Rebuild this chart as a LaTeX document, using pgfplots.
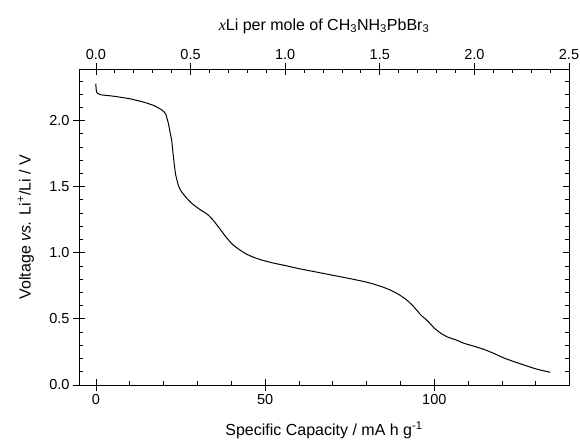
\documentclass[border=0pt]{standalone}
\usepackage{pgfplots}
\pgfplotsset{compat=1.18}
\usepackage{fontspec}
\setmainfont{Liberation Sans}
\newfontfamily\seriffont{Liberation Serif}
\begin{document}
\begin{tikzpicture}
\pgfplotsset{
  common/.style={
    scale only axis, width=490pt, height=316pt,
    at={(0,0)}, anchor=south west,
    ymin=0, ymax=2.39,
    /pgf/number format/assume math mode=true,
    tick label style={font=\fontsize{14.5}{17}\selectfont},
    label style={font=\fontsize{16}{19}\selectfont},
    axis line style={line width=0.8pt},
    every tick/.style={black, line width=0.8pt},
    major tick length=6pt, minor tick length=4pt,
  }
}
\useasboundingbox (-79pt,-55pt) rectangle (501pt,385pt);
% main axis: bottom and left, inside ticks
\begin{axis}[common,
  xmin=-5, xmax=139.8,
  xtick={0,50,100},
  minor xtick={10,20,30,40,60,70,80,90,110,120,130},
  ytick={0,0.5,1,1.5,2},
  minor ytick={0.1,0.2,0.3,0.4,0.6,0.7,0.8,0.9,1.1,1.2,1.3,1.4,1.6,1.7,1.8,1.9,2.1,2.2,2.3},
  xtick pos=bottom, ytick pos=left, tick align=inside,
  yticklabel style={/pgf/number format/fixed, /pgf/number format/fixed zerofill, /pgf/number format/precision=1, xshift=-6pt},
  xticklabel style={yshift=-6pt},
  xlabel={Specific Capacity / mA h g\textsuperscript{-1}},
  ylabel={Voltage \textit{vs.} Li\textsuperscript{+}/Li / V},
  xlabel style={at={([yshift=-45pt]axis description cs:0.5,0)}, anchor=center},
  ylabel style={at={([xshift=-53pt]axis description cs:0,0.5)}, anchor=center},
]
\addplot[black, line width=1pt, smooth, tension=0.3] coordinates {
(0,2.28) (0.05,2.24) (0.3,2.21) (1.5,2.195) (5,2.185) (10,2.165) (14,2.14)
(17,2.115) (19.5,2.08) (20.6,2.05) (21.4,1.98) (22.0,1.90) (22.4,1.85)
(22.8,1.75) (23.1,1.68) (23.5,1.60) (23.9,1.553) (24.5,1.50) (25.2,1.465)
(26.8,1.414) (28.5,1.37) (30.8,1.326) (33,1.29) (34.7,1.245) (36.5,1.185)
(38.7,1.111) (40.5,1.06) (42.6,1.02) (44.5,0.99) (46.5,0.967) (49,0.945)
(52.5,0.922) (56,0.903) (60,0.88) (65,0.855) (70,0.83) (75,0.805) (80,0.778)
(84,0.748) (87,0.718) (89.5,0.685) (92,0.64) (94,0.59) (96,0.53) (98,0.485)
(100,0.43) (102,0.39) (104,0.362) (106.5,0.34) (108.7,0.316) (111.5,0.295)
(114.6,0.27) (117.5,0.24) (120.5,0.205) (123.5,0.177) (126.4,0.152)
(129,0.13) (131.2,0.114) (134.3,0.096)
};
\end{axis}
% outward halves of bottom/left major ticks
\begin{axis}[common,
  xmin=-5, xmax=139.8,
  xtick={0,50,100}, ytick={0,0.5,1,1.5,2},
  xtick pos=bottom, ytick pos=left, tick align=outside,
  xticklabels={}, yticklabels={},
]
\end{axis}
% top axis (xLi) and right ticks, inside
\begin{axis}[common,
  xmin=-0.0894, xmax=2.5,
  xtick={0,0.5,1,1.5,2,2.5},
  minor xtick={0.1,0.2,0.3,0.4,0.6,0.7,0.8,0.9,1.1,1.2,1.3,1.4,1.6,1.7,1.8,1.9,2.1,2.2,2.3,2.4},
  ytick={0,0.5,1,1.5,2},
  minor ytick={0.1,0.2,0.3,0.4,0.6,0.7,0.8,0.9,1.1,1.2,1.3,1.4,1.6,1.7,1.8,1.9,2.1,2.2,2.3},
  xtick pos=top, ytick pos=right, tick align=inside,
  yticklabels={},
  xticklabel style={/pgf/number format/fixed, /pgf/number format/fixed zerofill, /pgf/number format/precision=1, yshift=6pt},
  xlabel={{\seriffont\itshape x}Li per mole of CH\textsubscript{3}NH\textsubscript{3}PbBr\textsubscript{3}},
  xlabel style={at={([yshift=43pt]axis description cs:0.5,1)}, anchor=center},
]
\end{axis}
% outward halves of top major ticks
\begin{axis}[common,
  xmin=-0.0894, xmax=2.5,
  xtick={0,0.5,1,1.5,2,2.5}, ytick=\empty,
  xtick pos=top, tick align=outside,
  xticklabels={},
]
\end{axis}
\end{tikzpicture}
\end{document}
